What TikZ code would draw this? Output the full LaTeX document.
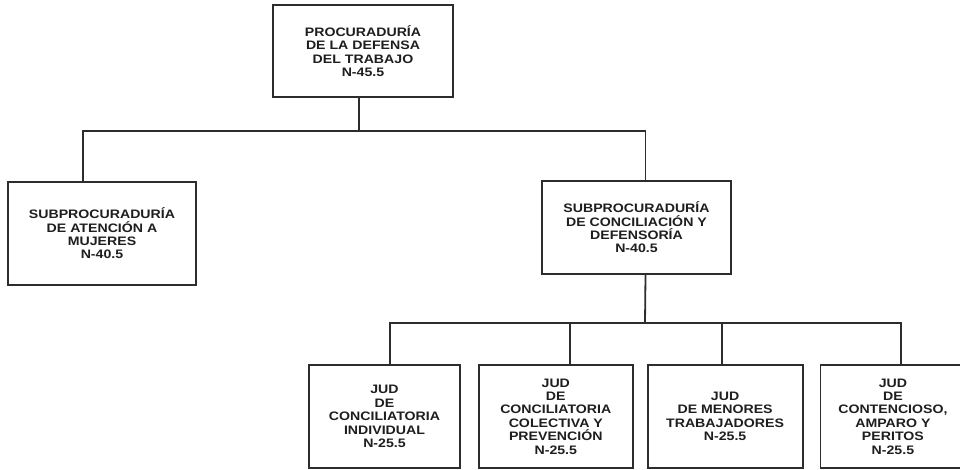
\documentclass[tikz,border=0pt]{standalone}
\usepackage{fontspec}
\setmainfont{Liberation Sans}[FakeStretch=1.15]
\usetikzlibrary{positioning}
\definecolor{linegray}{RGB}{45,45,45}
\definecolor{textgray}{RGB}{30,30,30}

\begin{document}
\begin{tikzpicture}[x=1pt, y=-1pt,
    box/.style={draw=linegray, line width=1.8pt, align=center, inner sep=2pt,
        font=\fontsize{12.3}{13.4}\selectfont\bfseries, text=textgray},
    jud/.style={box, minimum height=103pt},
    link/.style={draw=linegray, line width=1.8pt}]
    \useasboundingbox (0,0) rectangle (960,470);
    % top level
    \node [box, minimum width=180pt, minimum height=92pt] (procuraduria) at (363,51)
        {PROCURADURÍA\\DE LA DEFENSA\\DEL TRABAJO\\N-45.5};
    % second level
    \node [box, minimum width=188pt, minimum height=103pt] (mujeres) at (102,233.5)
        {SUBPROCURADURÍA\\DE ATENCIÓN A\\MUJERES\\N-40.5};
    \node [box, minimum width=189pt, minimum height=93pt] (conciliacion) at (636.5,227.5)
        {SUBPROCURADURÍA\\DE CONCILIACIÓN Y\\DEFENSORÍA\\N-40.5};
    % JUD row
    \node [jud, minimum width=151pt] (individual) at (384.5,416.5)
        {JUD\\DE\\CONCILIATORIA\\INDIVIDUAL\\N-25.5};
    \node [jud, minimum width=154pt, right=17pt of individual] (colectiva)
        {JUD\\DE\\CONCILIATORIA\\COLECTIVA Y\\PREVENCIÓN\\N-25.5};
    \node [jud, minimum width=155pt, right=13pt of colectiva] (menores)
        {JUD\\DE MENORES\\TRABAJADORES\\N-25.5};
    \node [jud, minimum width=145pt, right=16pt of menores] (contencioso)
        {JUD\\DE\\CONTENCIOSO,\\AMPARO Y\\PERITOS\\N-25.5};
    % connectors
    \coordinate (bus1) at (359,131);
    \coordinate (bus2) at (645,323);
    \draw [link] (bus1 |- procuraduria.south) -- (bus1);
    \draw [link] ([xshift=-19pt]mujeres.north) |- (bus1) -| ([xshift=9pt]conciliacion.north);
    \draw [link] ([xshift=9pt]conciliacion.south) -- (bus2);
    \draw [link] ([xshift=5.5pt]individual.north) |- (bus2) -| ([xshift=8pt]contencioso.north);
    \draw [link] ([xshift=14pt]colectiva.north) -- ([xshift=14pt]colectiva.north |- bus2);
    \draw [link] ([xshift=-3.5pt]menores.north) -- ([xshift=-3.5pt]menores.north |- bus2);
\end{tikzpicture}
\end{document}
